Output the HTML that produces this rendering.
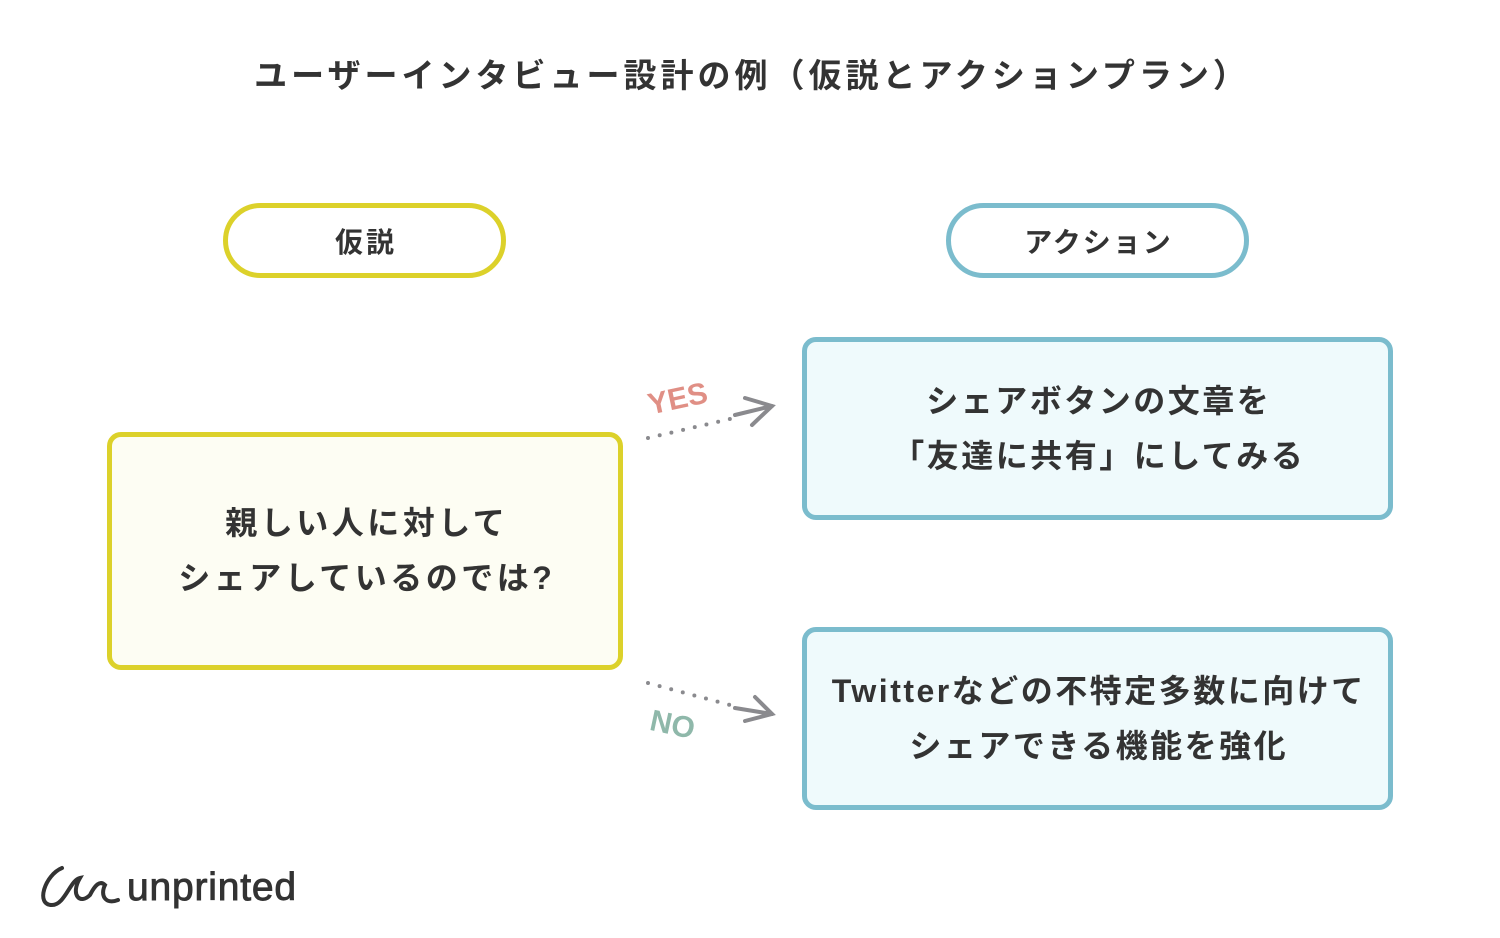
<!DOCTYPE html>
<html><head><meta charset="utf-8"><style>
body{margin:0;width:1500px;height:938px;background:#fff;position:relative;overflow:hidden;font-family:"Liberation Sans","Noto Sans CJK JP",sans-serif;color:#333;font-weight:bold}
.a{position:absolute;box-sizing:border-box;display:flex;align-items:center;justify-content:center;text-align:center}
.b{letter-spacing:3.5px;padding-left:3.5px}
</style></head><body>
<div class="a" style="left:0;top:45px;width:1500px;height:56px;font-size:33px;letter-spacing:4px;padding-left:4px">ユーザーインタビュー設計の例（仮説とアクションプラン）</div>
<div class="a" style="left:223px;top:203px;width:283px;height:75px;border:5px solid #dcd12a;border-radius:38px;font-size:28px;letter-spacing:3px;padding-left:3px">仮説</div>
<div class="a" style="left:946px;top:203px;width:303px;height:75px;border:5px solid #7bbccd;border-radius:38px;font-size:28px;letter-spacing:2px;padding-left:2px">アクション</div>
<div class="a b" style="left:107px;top:432px;width:516px;height:238px;border:5px solid #dcd12a;border-radius:14px;background:#fdfdf3;font-size:32px;line-height:55px">親しい人に対して<br>シェアしているのでは?</div>
<div class="a" style="left:802px;top:337px;width:591px;height:183px;border:5px solid #7bbccd;border-radius:14px;background:#effafc;font-size:32px;line-height:55px;letter-spacing:2.5px;padding-left:2.5px">シェアボタンの文章を<br>「友達に共有」にしてみる</div>
<div class="a" style="left:802px;top:627px;width:591px;height:183px;border:5px solid #7bbccd;border-radius:14px;background:#effafc;font-size:32px;line-height:55px;letter-spacing:2.5px;padding-left:2.5px">Twitterなどの不特定多数に向けて<br>シェアできる機能を強化</div>
<svg style="position:absolute;left:0;top:0" width="1500" height="938">
<g stroke="#8a8a8e" stroke-width="4" stroke-linecap="round" fill="none">
<path d="M648 438 L730 419" stroke-dasharray="0 12"/>
<path d="M735 415 L772 406 M745 398 L772 406 L752 425"/>
<path d="M648 683 L730 705" stroke-dasharray="0 12"/>
<path d="M735 708 L772 714 M755 697 L772 714 L745 721"/>
</g>
<text x="647" y="408" font-size="30" font-weight="bold" fill="#e08f85" transform="rotate(-12 680 395)" font-family="Liberation Sans">YES</text>
<text x="650" y="735" font-size="30" font-weight="bold" fill="#8fb8aa" transform="rotate(12 675 725)" font-family="Liberation Sans">NO</text>
<path d="M62 868 C45 875 35 905 52 905 C65 905 70 880 80 878 C70 895 80 905 90 895 C95 885 100 880 105 885 C100 895 105 905 118 900" stroke="#333" stroke-width="4" fill="none" stroke-linecap="round"/>
<text x="127" y="900" font-size="39" font-family="Liberation Sans" font-weight="normal" fill="#333" stroke="#333" stroke-width="0.9" letter-spacing="0.8">unprinted</text>
</svg>
</body></html>
